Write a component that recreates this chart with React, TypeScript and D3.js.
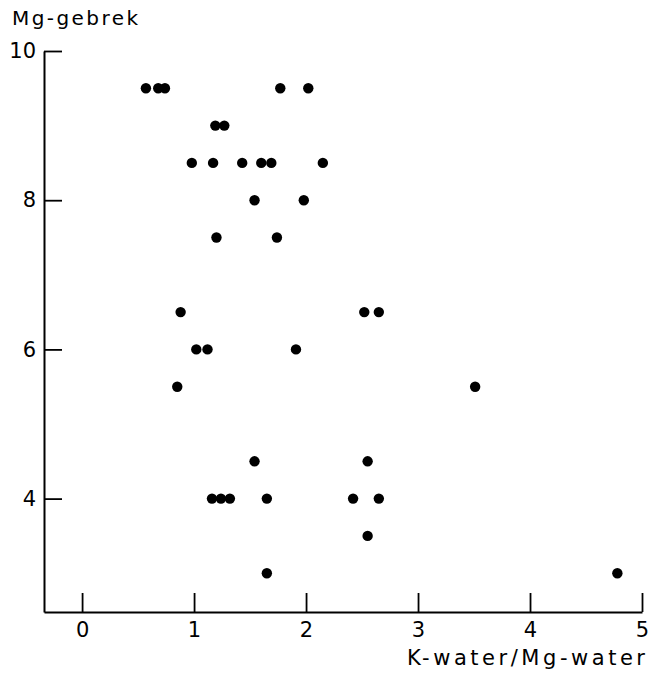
import React, { useEffect, useRef } from 'react';
import * as d3 from 'd3';

// K-water/Mg-water ratio (x) against Mg deficiency score (y)
const ratio = [
    0.57, 0.68, 0.74, 1.77, 2.02,
    1.19, 1.27,
    0.98, 1.17, 1.43, 1.60, 1.69, 2.15,
    1.54, 1.98,
    1.20, 1.74,
    0.88, 2.52, 2.65,
    1.02, 1.12, 1.91,
    0.85, 3.51,
    1.54, 2.55,
    1.16, 1.24, 1.32, 1.65, 2.42, 2.65,
    2.55,
    1.65, 4.78,
];
const gebrek = [
    9.5, 9.5, 9.5, 9.5, 9.5,
    9, 9,
    8.5, 8.5, 8.5, 8.5, 8.5, 8.5,
    8, 8,
    7.5, 7.5,
    6.5, 6.5, 6.5,
    6, 6, 6,
    5.5, 5.5,
    4.5, 4.5,
    4, 4, 4, 4, 4, 4,
    3.5,
    3, 3,
];
const xTicks = [0, 1, 2, 3, 4, 5];
const yTicks = [4, 6, 8, 10];
const xTitle = 'K-water/Mg-water';
const yTitle = 'Mg-gebrek';

const App = () => {
    const ref = useRef(null);

    useEffect(() => {
        const width = 664;
        const height = 674;
        const font = '"DejaVu Sans", sans-serif';

        const x = d3.scaleLinear()
            .domain([-0.34, 5])
            .range([44, 642]);

        const y = d3.scaleLinear()
            .domain([2.48, 10])
            .range([612, 51]);

        const svg = d3.select(ref.current)
            .attr('width', width)
            .attr('height', height);
        svg.selectAll('*').remove();

        const xAxis = svg.append('g')
            .attr('transform', `translate(0,${y(2.48)})`)
            .call(d3.axisBottom(x).tickValues(xTicks).tickFormat(d3.format('d'))
                .tickSizeInner(-19).tickSizeOuter(0).tickPadding(10));

        const yAxis = svg.append('g')
            .attr('transform', `translate(${x(-0.34)},0)`)
            .call(d3.axisLeft(y).tickValues(yTicks).tickFormat(d3.format('d'))
                .tickSizeInner(-18).tickSizeOuter(0).tickPadding(8));

        [xAxis, yAxis].forEach(g => {
            g.select('.domain').attr('stroke', '#000').attr('stroke-width', 2);
            g.selectAll('.tick line').attr('stroke', '#000').attr('stroke-width', 1.8);
            g.selectAll('.tick text')
                .attr('fill', '#000')
                .attr('font-family', font)
                .attr('font-size', 21);
        });

        svg.append('g')
            .selectAll('circle')
            .data(ratio.map((r, i) => [r, gebrek[i]]))
            .join('circle')
            .attr('cx', d => x(d[0]))
            .attr('cy', d => y(d[1]))
            .attr('r', 5.2)
            .attr('fill', '#000');

        svg.append('text')
            .attr('x', 12)
            .attr('y', 25)
            .attr('font-family', font)
            .attr('font-size', 20)
            .attr('textLength', 126)
            .attr('lengthAdjust', 'spacing')
            .text(yTitle);

        svg.append('text')
            .attr('x', 407)
            .attr('y', 665)
            .attr('font-family', font)
            .attr('font-size', 21)
            .attr('textLength', 238)
            .attr('lengthAdjust', 'spacing')
            .text(xTitle);
    }, []);

    return (
        <div>
            <style>{'body { margin: 0; } svg { display: block; }'}</style>
            <svg ref={ref} />
        </div>
    );
};

export default App;
